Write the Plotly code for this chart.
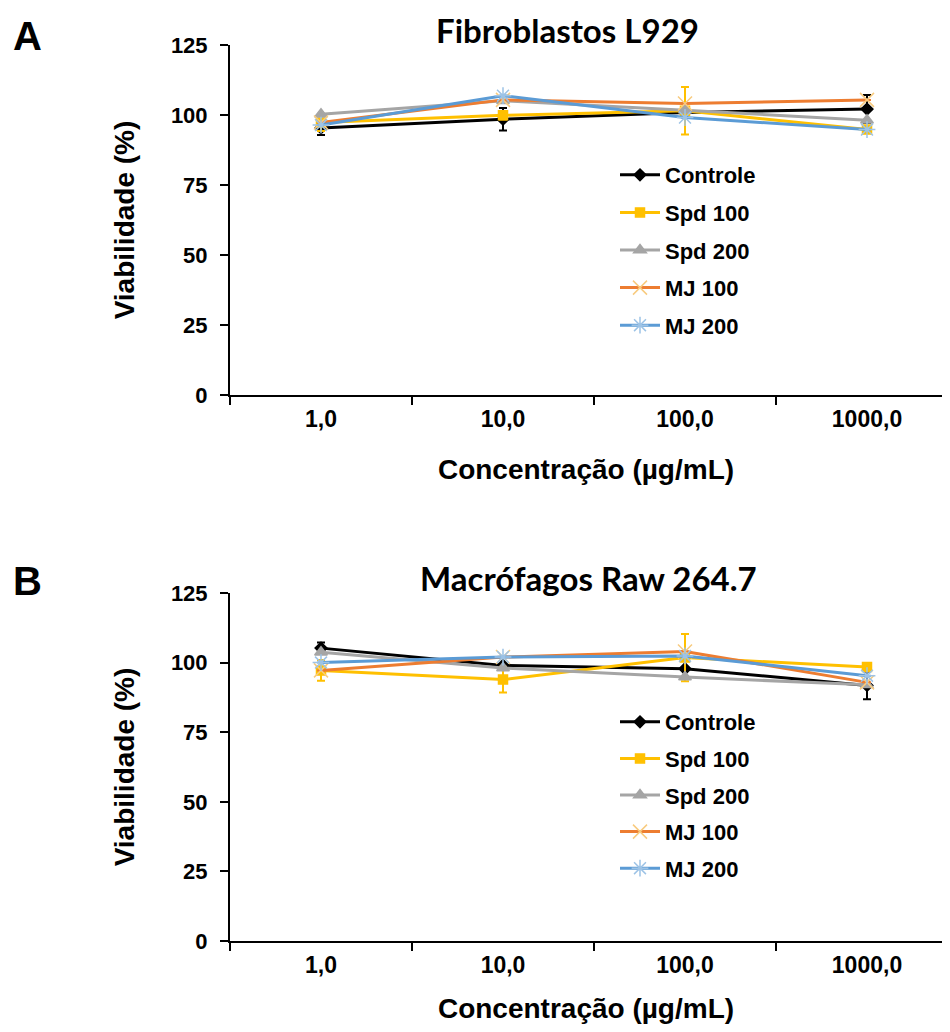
import plotly.graph_objects as go

categories = ["1,0", "10,0", "100,0", "1000,0"]
series_names = ["Controle", "Spd 100", "Spd 200", "MJ 100", "MJ 200"]

# Panel A - Fibroblastos L929
a_controle = [95.4, 98.5, 100.9, 102.1]
a_spd100 = [97.3, 99.9, 101.5, 94.8]
a_spd200 = [100.3, 105.1, 101.7, 98.1]
a_mj100 = [97.3, 105.4, 104.1, 105.4]
a_mj200 = [96.4, 106.9, 99.1, 94.8]
a_err_controle = [2.5, 4.0, 0, 5.0]
a_err_spd100 = [3.0, 1.5, 8.5, 0]
a_err_spd200 = [0, 0, 0, 0]
a_err_mj100 = [0, 0, 0, 0]
a_err_mj200 = [0, 0, 0, 0]

# Panel B - Macrófagos Raw 264.7
b_controle = [105.2, 99.0, 97.8, 91.8]
b_spd100 = [97.2, 93.9, 101.8, 98.4]
b_spd200 = [103.7, 98.1, 94.8, 92.0]
b_mj100 = [97.2, 102.0, 104.0, 92.9]
b_mj200 = [100.0, 102.0, 102.4, 95.3]
b_err_controle = [2.0, 0, 0, 5.0]
b_err_spd100 = [3.7, 4.6, 8.5, 0]
b_err_spd200 = [0, 0, 0, 0]
b_err_mj100 = [0, 0, 0, 0]
b_err_mj200 = [0, 0, 0, 0]

line_colors = ["#000000", "#FFC000", "#A5A5A5", "#ED7D31", "#5B9BD5"]
marker_colors = ["#000000", "#FFC000", "#A5A5A5", "#F8CB7F", "#9DC3E6"]
symbols = ["diamond", "square", "triangle-up", "x-thin-open", "asterisk-open"]
sizes = [9, 9, 11, 14, 14]

panel_a = [a_controle, a_spd100, a_spd200, a_mj100, a_mj200]
panel_a_err = [a_err_controle, a_err_spd100, a_err_spd200, a_err_mj100, a_err_mj200]
panel_b = [b_controle, b_spd100, b_spd200, b_mj100, b_mj200]
panel_b_err = [b_err_controle, b_err_spd100, b_err_spd200, b_err_mj100, b_err_mj200]

# page has an 8px body margin; figure sized so the page fits the window exactly
OFF = 8
W, H = 950 - 2 * OFF, 1032 - 2 * OFF

def px(x):
    return (x - OFF) / W

def py(y):
    return 1 - (y - OFF) / H

fig = go.Figure()

def add_panel(values, errs, xa, ya, legend):
    for i, name in enumerate(series_names):
        fig.add_trace(go.Scatter(
            x=categories, y=values[i], name=name, mode="lines+markers",
            xaxis=xa, yaxis=ya, legend=legend, legendgroup=legend + name,
            line=dict(color=line_colors[i], width=3),
            marker=dict(symbol=symbols[i], size=sizes[i], color=marker_colors[i],
                        line=dict(color=marker_colors[i], width=1.5)),
            error_y=dict(type="data", array=errs[i], visible=True,
                         color=line_colors[i], thickness=2, width=4),
        ))

add_panel(panel_a, panel_a_err, "x", "y", "legend")
add_panel(panel_b, panel_b_err, "x2", "y2", "legend2")

FONT = "Liberation Sans, Arial"
xtickfont = dict(family=FONT, size=23, color="black", weight="bold")
ytickfont = dict(family=FONT, size=22, color="black", weight="bold")
titlefont = dict(family=FONT, size=28, color="black", weight="bold")

# x axis spans page x 230 .. 958 (cropped at right edge of the figure)
x_end = 942.0
x_range_max = -0.5 + 4 * (x_end - 230) / (958 - 230)

def xaxis_cfg(anchor):
    return dict(domain=[px(230), 1], anchor=anchor, type="category",
                range=[-0.5, x_range_max],
                tickson="boundaries", ticks="outside", ticklen=8, tickwidth=2,
                tickcolor="black", showline=True, linecolor="black", linewidth=2,
                showgrid=False, zeroline=False, tickfont=xtickfont, automargin=False,
                ticklabelstandoff=2,
                title=dict(text="Concentração (µg/mL)", font=titlefont, standoff=29))

def yaxis_cfg(anchor, d0, d1):
    return dict(domain=[py(d1), py(d0)], anchor=anchor, range=[0, 125],
                dtick=25, ticks="outside", ticklen=8, tickwidth=2, tickcolor="black",
                showline=True, linecolor="black", linewidth=2, showgrid=False,
                zeroline=False, tickfont=ytickfont, automargin=False,
                ticklabelstandoff=8,
                title=dict(text="Viabilidade (%)", font=titlefont, standoff=28))

legend_font = dict(family=FONT, size=22, color="black", weight="bold")

fig.update_layout(
    width=W, height=H, margin=dict(l=0, r=0, t=0, b=0, pad=0, autoexpand=False),
    paper_bgcolor="white", plot_bgcolor="white",
    xaxis=xaxis_cfg("y"), yaxis=yaxis_cfg("x", 45, 395),
    xaxis2=xaxis_cfg("y2"), yaxis2=yaxis_cfg("x2", 593, 941),
    legend=dict(x=px(615), y=py(154), xanchor="left", yanchor="top",
                font=legend_font, tracegroupgap=6, bgcolor="rgba(0,0,0,0)",
                itemwidth=40),
    legend2=dict(x=px(615), y=py(701), xanchor="left", yanchor="top",
                 font=legend_font, tracegroupgap=5, bgcolor="rgba(0,0,0,0)",
                 itemwidth=40),
    annotations=[
        dict(text="Fibroblastos L929", x=px(567), y=py(30), xref="paper", yref="paper",
             xanchor="center", yanchor="middle", showarrow=False,
             font=dict(family="Lato", size=33, color="black", weight="bold")),
        dict(text="Macrófagos Raw 264.7", x=px(588), y=py(578), xref="paper", yref="paper",
             xanchor="center", yanchor="middle", showarrow=False,
             font=dict(family="Lato", size=33, color="black", weight="bold")),
        dict(text="A", x=px(27), y=py(36), xref="paper", yref="paper",
             xanchor="center", yanchor="middle", showarrow=False,
             font=dict(family=FONT, size=40, color="black", weight="bold")),
        dict(text="B", x=px(27), y=py(581), xref="paper", yref="paper",
             xanchor="center", yanchor="middle", showarrow=False,
             font=dict(family=FONT, size=40, color="black", weight="bold")),
    ],
)

fig.write_html("out.html")
